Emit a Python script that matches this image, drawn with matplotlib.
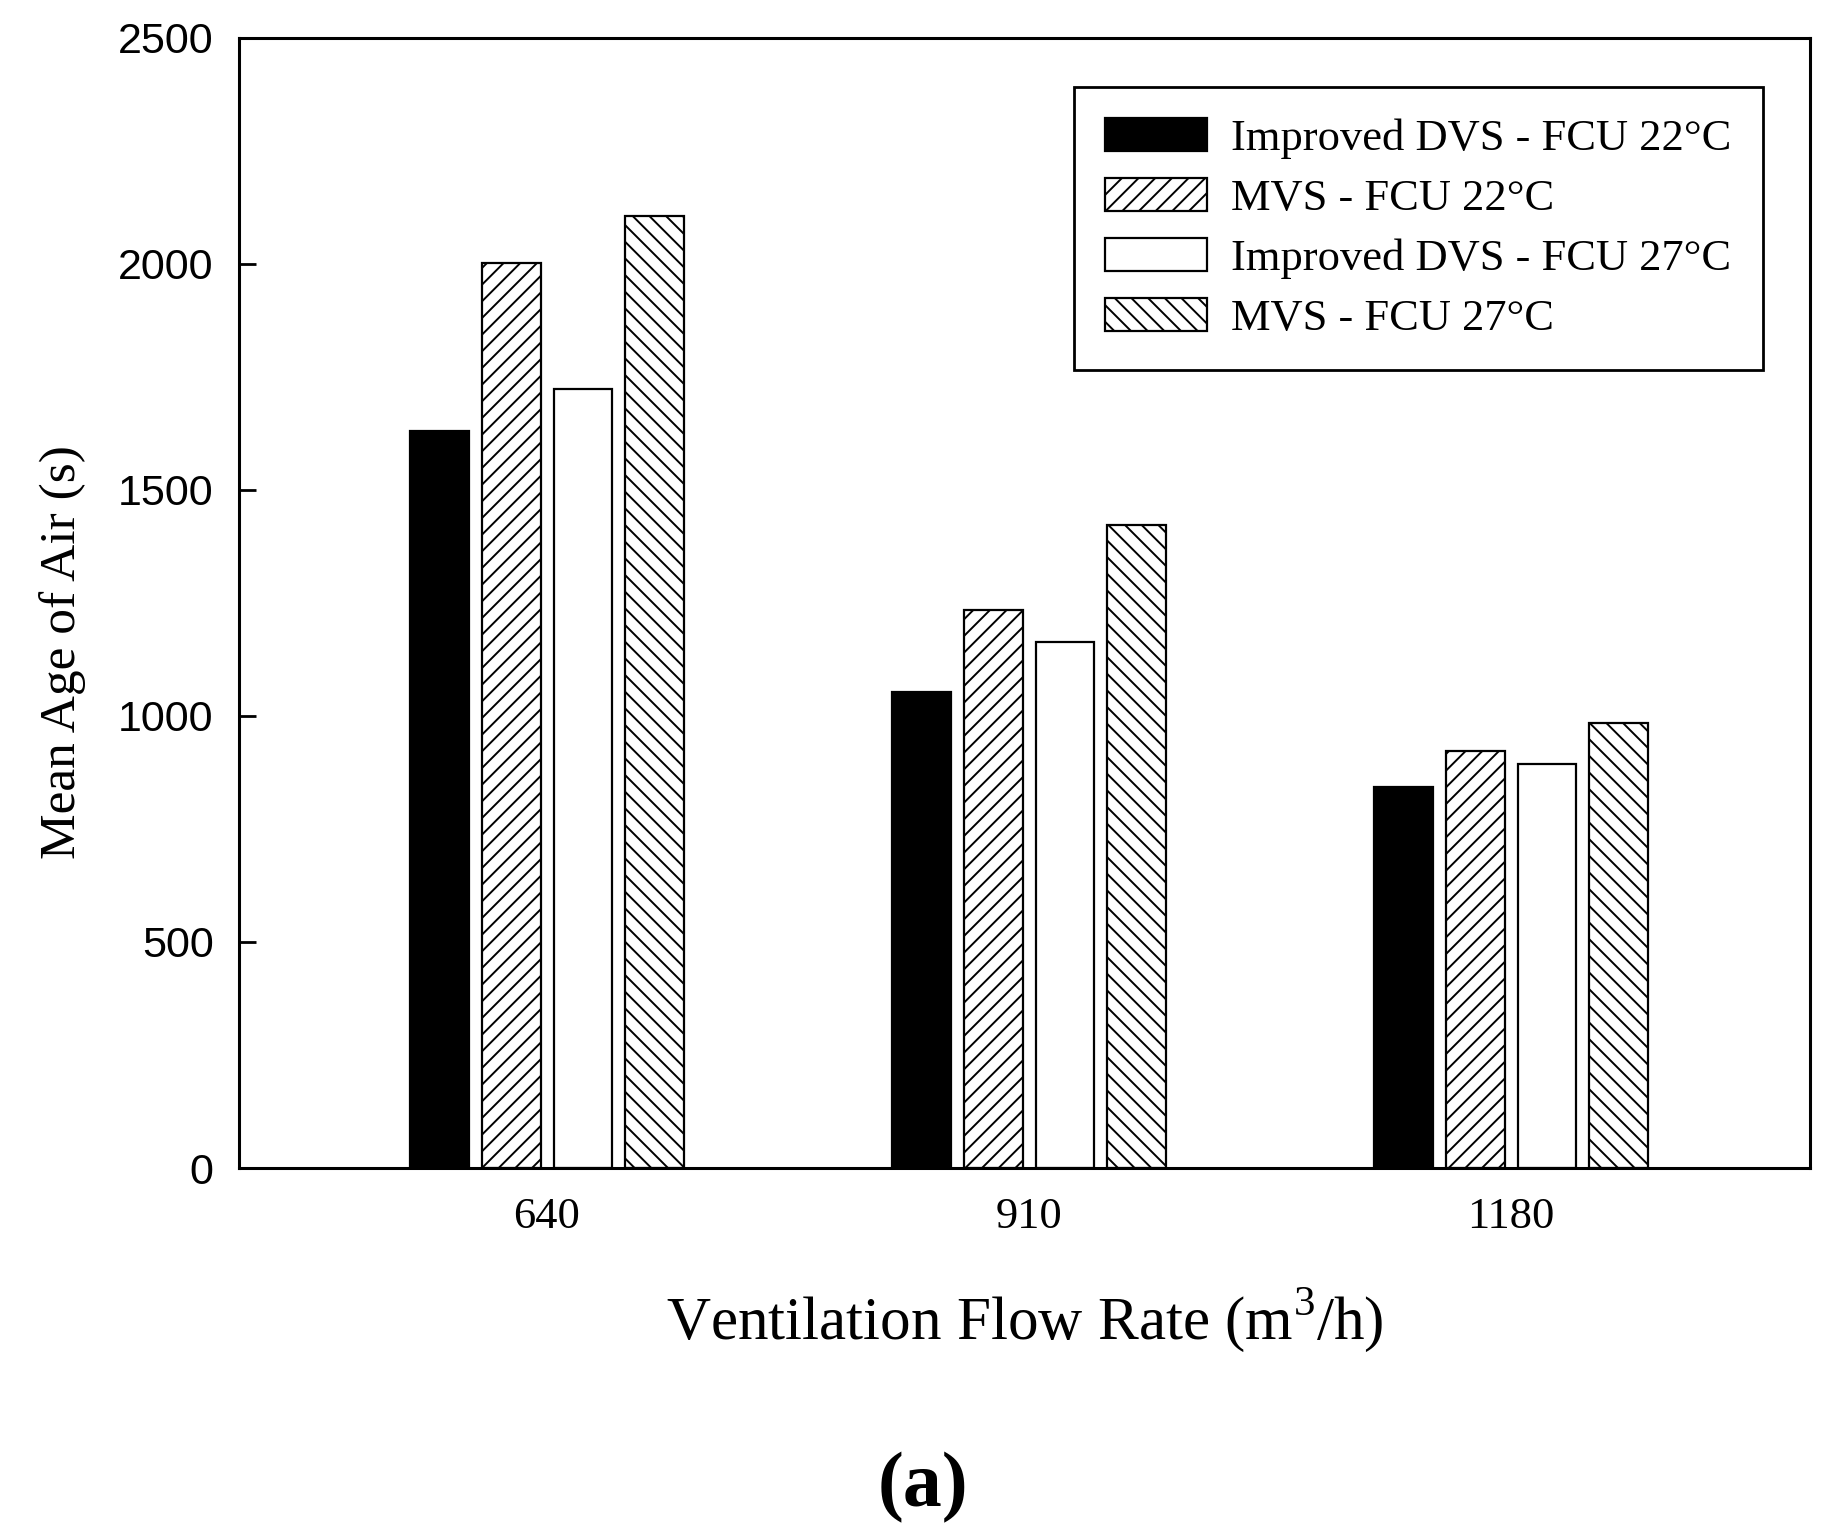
import numpy as np
import matplotlib
matplotlib.use("Agg")
import matplotlib.pyplot as plt

# data
flow_rates = ["640", "910", "1180"]
series_names = ["Improved DVS - FCU 22\u00b0C", "MVS - FCU 22\u00b0C",
                "Improved DVS - FCU 27\u00b0C", "MVS - FCU 27\u00b0C"]
dvs_22 = [1629, 1052, 842]
mvs_22 = [2001, 1234, 922]
dvs_27 = [1723, 1164, 894]
mvs_27 = [2105, 1421, 985]
y_ticks = [0, 500, 1000, 1500, 2000, 2500]

plt.rcParams['mathtext.fontset'] = 'custom'
plt.rcParams['mathtext.rm'] = 'Liberation Serif'
plt.rcParams['hatch.linewidth'] = 1.4

fig = plt.figure(figsize=(18.25, 15.26), dpi=100)
ax = fig.add_axes([0.1307, 0.2346, 0.8611, 0.7408])

x = np.arange(len(flow_rates))
w = 0.122
step = 0.149
styles = [("black", ""), ("white", "//"), ("white", ""), ("white", "\\\\")]
data = [dvs_22, mvs_22, dvs_27, mvs_27]
for i, (vals, (fc, h)) in enumerate(zip(data, styles)):
    ax.bar(x + (i - 1.5) * step, vals, w, color=fc, edgecolor="black",
           hatch=h, linewidth=1.6, label=series_names[i])

ax.set_xlim(-0.64, 2.62)
ax.set_ylim(0, 2500)
ax.set_yticks(y_ticks)
ax.set_xticks(x)
ax.set_xticklabels(flow_rates, fontfamily="Liberation Serif", fontsize=32)
ax.tick_params(axis="x", length=0, pad=21)
ax.tick_params(axis="y", direction="in", length=12, width=2, pad=18,
               labelsize=31)
for lab in ax.get_yticklabels():
    lab.set_fontfamily("Liberation Sans")
for s in ax.spines.values():
    s.set_linewidth(2.2)

ax.set_xlabel("Ventilation Flow Rate (m$^{\\mathrm{3}}$/h)",
              fontfamily="Liberation Serif", fontsize=44)
ax.xaxis.set_label_coords(0.5, -0.105)
ax.set_ylabel("Mean Age of Air (s)", fontfamily="Liberation Serif", fontsize=37)
ax.yaxis.set_label_coords(-0.097, 0.456)

leg = ax.legend(loc="upper right", bbox_to_anchor=(0.970, 0.956),
                borderaxespad=0, fancybox=False, framealpha=1,
                edgecolor="black", handlelength=2.3, handleheight=0.75,
                handletextpad=0.55, borderpad=0.7, labelspacing=0.43,
                prop={"family": "Liberation Serif", "size": 32})
leg.get_frame().set_linewidth(2)

fig.text(0.5055, 0.025, "(a)", fontfamily="Liberation Serif",
         fontweight="bold", fontsize=56, ha="center", va="center")

fig.savefig("out.png", dpi=100)
